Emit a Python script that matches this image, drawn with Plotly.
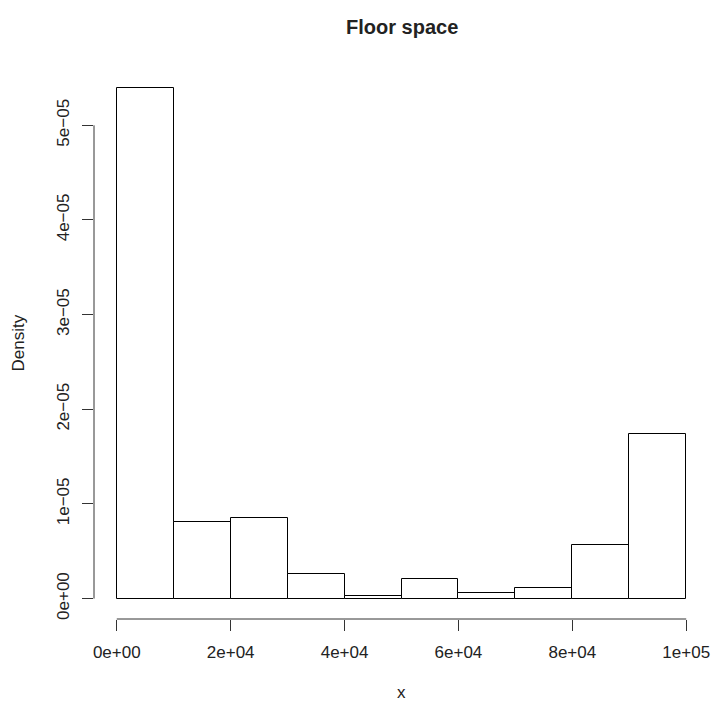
import plotly.graph_objects as go

# Histogram data (density scale)
breaks = [0, 10000, 20000, 30000, 40000, 50000, 60000, 70000, 80000, 90000, 100000]
density = [5.39e-05, 0.81e-05, 0.849e-05, 0.257e-05, 0.03e-05, 0.204e-05,
           0.063e-05, 0.112e-05, 0.571e-05, 1.744e-05]

x_tickvals = [0, 20000, 40000, 60000, 80000, 100000]
x_ticktext = ["0e+00", "2e+04", "4e+04", "6e+04", "8e+04", "1e+05"]
y_tickvals = [0, 1e-05, 2e-05, 3e-05, 4e-05, 5e-05]
y_ticktext = ["0e+00", "1e\u221205", "2e\u221205", "3e\u221205", "4e\u221205", "5e\u221205"]

mids = [(a + b) / 2 for a, b in zip(breaks[:-1], breaks[1:])]
widths = [b - a for a, b in zip(breaks[:-1], breaks[1:])]

FONT = "Liberation Sans, Arial, Helvetica, sans-serif"

fig = go.Figure(go.Bar(
    x=mids, y=density, width=widths,
    marker=dict(color="white", line=dict(color="black", width=1)),
    hoverinfo="x+y",
))

xmin, xmax = breaks[0], breaks[-1]
xr = xmax - xmin
ymax = max(density)

fig.update_layout(
    width=712, height=701,
    margin=dict(l=94, r=3, t=68, b=82),
    paper_bgcolor="white", plot_bgcolor="white",
    showlegend=False,
    font=dict(family=FONT, size=17, color="#222"),
    bargap=0,
    xaxis=dict(
        range=[xmin - 0.04 * xr, xmax + 0.04 * xr],
        tickvals=x_tickvals, ticktext=x_ticktext,
        ticks="outside", ticklen=11, tickwidth=1, tickcolor="#333",
        showgrid=False, zeroline=False, showline=False,
        ticklabelstandoff=7, automargin=False,
    ),
    yaxis=dict(
        range=[-0.04 * ymax, 1.04 * ymax],
        tickvals=y_tickvals, ticktext=y_ticktext, tickangle=-90,
        ticks="outside", ticklen=11, tickwidth=1, tickcolor="#333",
        showgrid=False, zeroline=False, showline=False,
        ticklabelstandoff=6, automargin=False,
    ),
    shapes=[
        dict(type="line", xref="x", yref="paper", x0=x_tickvals[0], x1=x_tickvals[-1],
             y0=0, y1=0, line=dict(color="#333", width=1)),
        dict(type="line", xref="paper", yref="y", x0=0, x1=0,
             y0=y_tickvals[0], y1=y_tickvals[-1], line=dict(color="#333", width=1)),
    ],
    annotations=[
        dict(text="<b>Floor space</b>", xref="paper", yref="paper", x=0.5, y=1,
             yshift=41, showarrow=False, font=dict(size=20), yanchor="middle"),
        dict(text="x", xref="paper", yref="paper", x=0.5, y=0, yshift=-73,
             showarrow=False, yanchor="middle"),
        dict(text="Density", xref="paper", yref="paper", x=0, y=0.5, xshift=-76,
             textangle=-90, showarrow=False, xanchor="center"),
    ],
)

fig.write_html(
    "out.html",
    config={"displayModeBar": False},
    post_script="document.body.style.margin='0';document.body.style.overflow='hidden';",
)
